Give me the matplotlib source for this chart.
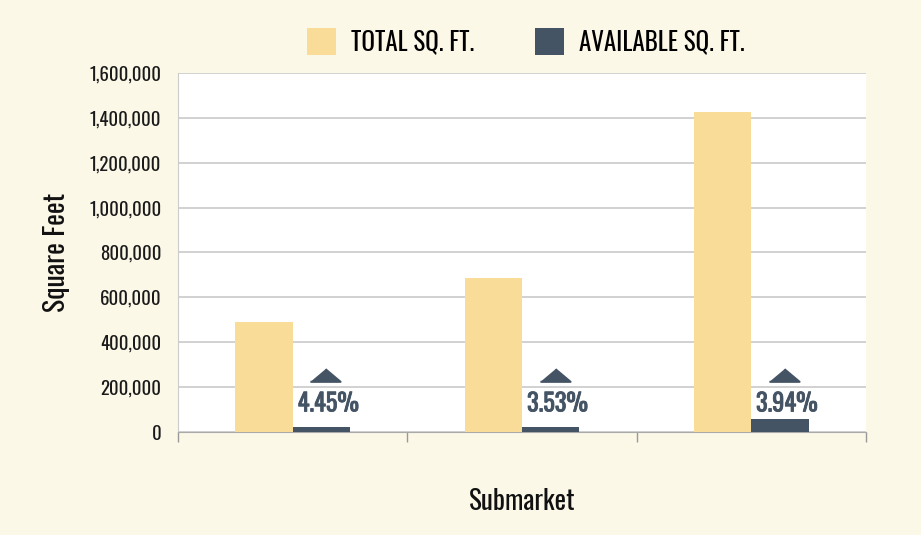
import matplotlib
matplotlib.use("Agg")
import matplotlib.pyplot as plt
import numpy as np
from matplotlib.ticker import FuncFormatter
from matplotlib.patches import Patch
from matplotlib import font_manager
import matplotlib.patheffects as pe

names = {f.name for f in font_manager.fontManager.ttflist}
choice = None
for cand in ["Oswald", "Roboto Condensed", "Open Sans Condensed", "Fjalla One",
             "Pathway Gothic One", "Archivo Narrow", "PT Sans Narrow", "Liberation Sans Narrow"]:
    if cand in names:
        choice = cand
        break
plt.rcParams['font.family'] = ([choice] if choice else []) + ['DejaVu Sans']

categories = ["A", "B", "C"]
total_sqft = [491000, 688000, 1425000]
available_sqft = [21800, 24300, 56100]
avail_pct_labels = ["4.45%", "3.53%", "3.94%"]
yticks = [0, 200000, 400000, 600000, 800000, 1000000, 1200000, 1400000, 1600000]

BG = "#fcf8e8"
C_TOTAL = "#f8dc98"
C_AVAIL = "#445465"

fig = plt.figure(figsize=(9.21, 5.35), dpi=100, facecolor=BG)
ax = fig.add_axes([178/921, 1-432/535, (866-178)/921, (432-73)/535])
ax.set_facecolor("white")

x = np.arange(len(categories))
w = 0.25
ax.bar(x - w/2, total_sqft, width=w, color=C_TOTAL, zorder=3)
ax.bar(x + w/2, available_sqft, width=w, color=C_AVAIL, zorder=3)

tri = [(-1, -0.42), (1, -0.42), (0, 0.42)]
for xi, lab in zip(x, avail_pct_labels):
    ax.scatter([xi + 0.143], [252000], marker=tri, s=470, color=C_AVAIL, zorder=4,
               linewidths=1.5, edgecolors=C_AVAIL)
    ax.text(xi + 0.155, 125000, lab, ha="center", va="center", fontsize=17.5,
            fontweight="bold", color=C_AVAIL, zorder=4,
            path_effects=[pe.withStroke(linewidth=0.6, foreground=C_AVAIL)])

ax.set_xlim(-0.5, len(categories) - 0.5)
ax.set_ylim(0, 1600000)
ax.set_yticks(yticks)
ax.yaxis.set_major_formatter(FuncFormatter(lambda v, p: f"{int(v):,}"))
ax.tick_params(axis="y", length=0, labelsize=13.5, pad=12, colors="#1a1a1a")
ax.set_xticks([])
ax.set_xticks(np.arange(len(categories) + 1) - 0.5, minor=True)
ax.tick_params(axis="x", which="minor", length=7, color="#999999", width=1)
ax.grid(axis="y", color="#c9c9c9", linewidth=1.2, zorder=0)
for s in ["top", "right"]:
    ax.spines[s].set_visible(False)
ax.spines["left"].set_color("#cccccc")
ax.spines["bottom"].set_color("#aaaaaa")

ax.set_ylabel("Square Feet", fontsize=20, color="#111111", labelpad=14)
ax.set_xlabel("Submarket", fontsize=19.5, color="#111111", labelpad=30)

handles = [Patch(facecolor=C_TOTAL, label="TOTAL SQ. FT."),
           Patch(facecolor=C_AVAIL, label="AVAILABLE SQ. FT.")]
fig.legend(handles=handles, loc="center", bbox_to_anchor=(0.571, 0.923), ncol=2,
           frameon=False, fontsize=18, handlelength=1.15, handleheight=1.3,
           columnspacing=2.45, handletextpad=0.6)

fig.savefig("out.png", dpi=100, facecolor=BG)
